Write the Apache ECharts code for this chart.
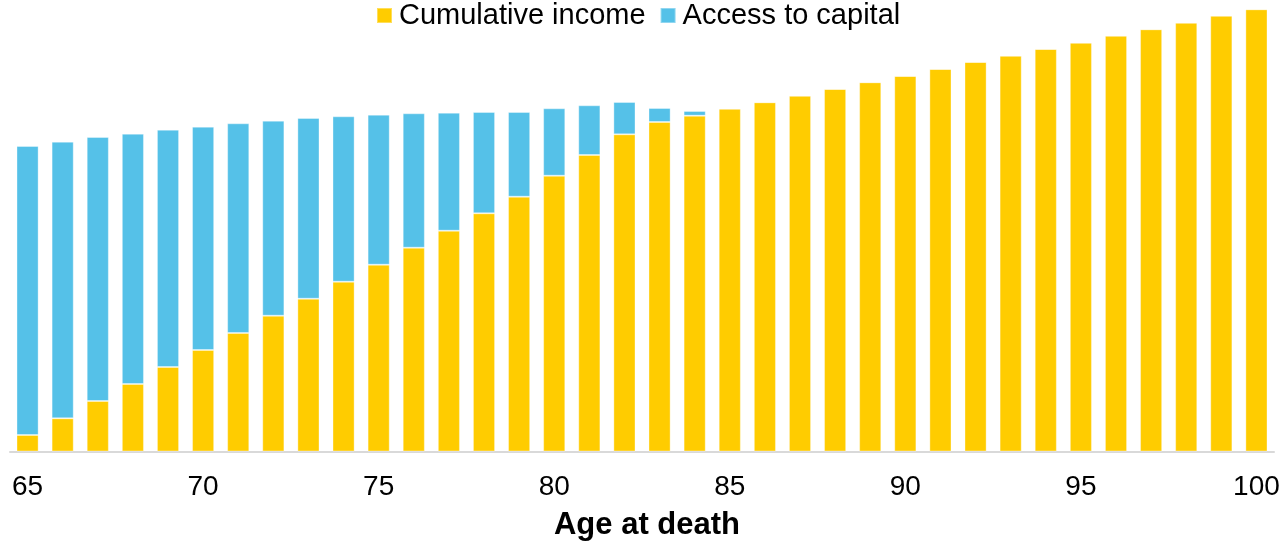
<!DOCTYPE html>
<html>
<head>
<meta charset="utf-8">
<title>Cumulative income and access to capital by age at death</title>
<script src="https://cdn.jsdelivr.net/npm/echarts@6/dist/echarts.min.js"></script>
<style>
  html, body { margin: 0; padding: 0; background: #ffffff; }
  #chart { width: 1283px; height: 541px; }
</style>
</head>
<body>
<div id="chart"></div>
<script>
// Age at death, 65 to 100
const ages = ['65','66','67','68','69','70','71','72','73','74','75','76','77','78','79','80','81','82',
              '83','84','85','86','87','88','89','90','91','92','93','94','95','96','97','98','99','100'];

// Cumulative income received by each age (same units for both series)
const cumulativeIncome = [16.5, 33.2, 50.5, 67.5, 84.5, 101.5, 118.5, 135.8, 152.8, 169.8, 186.8, 203.8,
                          220.8, 238.2, 254.8, 275.8, 296.5, 317.2, 329.5, 335.8, 342.8, 349.2, 355.8, 362.5,
                          369.2, 375.5, 382.5, 389.5, 395.8, 402.5, 408.8, 415.8, 422.2, 428.8, 435.8, 442.2];

// Remaining capital still accessible at each age
const accessToCapital = [289.0, 276.6, 264.0, 250.3, 237.3, 223.3, 209.7, 195.0, 180.7, 165.4, 150.0, 134.4,
                         118.0, 101.3, 84.7, 67.4, 49.7, 32.3, 14.0, 4.7, 0, 0, 0, 0,
                         0, 0, 0, 0, 0, 0, 0, 0, 0, 0, 0, 0];

const seriesNames = ['Cumulative income', 'Access to capital'];
const seriesColors = ['#FFCC00', '#55C1E8'];
const axisTitle = 'Age at death';

const FONT = '"Liberation Sans", Arial, sans-serif';

const chart = echarts.init(document.getElementById('chart'), null, { renderer: 'canvas' });

chart.setOption({
  animation: false,
  backgroundColor: '#ffffff',
  title: {
    text: axisTitle,
    left: 642,
    top: 505,
    textAlign: 'center',
    textStyle: { fontFamily: FONT, fontSize: 31, fontWeight: 'bold', color: '#000000' }
  },
  legend: {
    top: -4,
    left: 371,
    icon: 'rect',
    itemWidth: 15,
    itemHeight: 15,
    itemGap: 14,
    textStyle: { fontFamily: FONT, fontSize: 29, color: '#000000', padding: [0, 0, 0, 2] },
    data: seriesNames
  },
  grid: {
    left: 10,
    right: 9,
    top: 1.5,
    bottom: 89.5,
    containLabel: false
  },
  xAxis: {
    type: 'category',
    data: ages,
    axisLine: { show: true, lineStyle: { color: '#d9d9d9', width: 2 } },
    axisTick: { show: false },
    axisLabel: {
      interval: 4,
      margin: 22,
      fontFamily: FONT,
      fontSize: 28,
      color: '#000000'
    }
  },
  yAxis: {
    type: 'value',
    min: 0,
    max: 450,
    show: false,
    splitLine: { show: false }
  },
  series: [
    {
      name: seriesNames[0],
      type: 'bar',
      stack: 'total',
      barWidth: '63%',
      data: cumulativeIncome,
      itemStyle: { color: seriesColors[0], borderColor: 'rgba(255,255,255,0.35)', borderWidth: 1 }
    },
    {
      name: seriesNames[1],
      type: 'bar',
      stack: 'total',
      barWidth: '63%',
      data: accessToCapital,
      itemStyle: { color: seriesColors[1], borderColor: 'rgba(255,255,255,0.35)', borderWidth: 1 }
    }
  ]
});
</script>
</body>
</html>
